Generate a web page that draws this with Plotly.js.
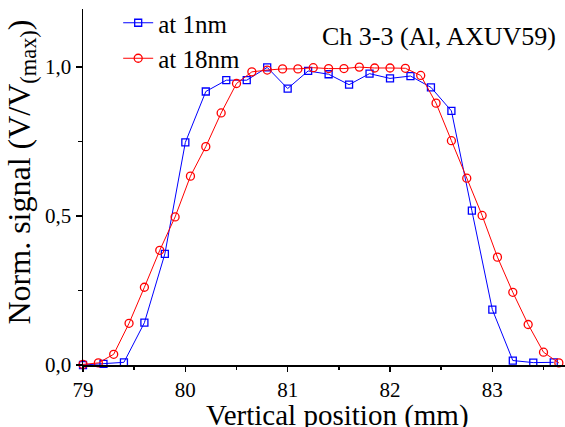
<!DOCTYPE html>
<html>
<head>
<meta charset="utf-8">
<script src="https://cdn.plot.ly/plotly-3.0.1.min.js"></script>
<style>html,body{margin:0;padding:0;background:#fff;}#chart{width:565px;height:427px;}</style>
</head>
<body>
<div id="chart"></div>
<script>
// Data
var x1nm = [79.0, 79.2, 79.4, 79.6, 79.8, 80.0, 80.2, 80.4, 80.6, 80.8, 81.0, 81.2, 81.4, 81.6, 81.8, 82.0, 82.2, 82.4, 82.6, 82.8, 83.0, 83.2, 83.4, 83.6];
var y1nm = [0.0, 0.004, 0.009, 0.142, 0.373, 0.747, 0.918, 0.956, 0.956, 0.999, 0.928, 0.987, 0.976, 0.941, 0.978, 0.962, 0.970, 0.932, 0.853, 0.518, 0.186, 0.015, 0.008, 0.009];
var x18nm = [79.0, 79.15, 79.3, 79.45, 79.6, 79.75, 79.9, 80.05, 80.2, 80.35, 80.5, 80.65, 80.8, 80.95, 81.1, 81.25, 81.4, 81.55, 81.7, 81.85, 82.0, 82.15, 82.3, 82.45, 82.6, 82.75, 82.9, 83.05, 83.2, 83.35, 83.5, 83.65];
var y18nm = [0.002, 0.007, 0.036, 0.140, 0.261, 0.385, 0.497, 0.634, 0.733, 0.846, 0.945, 0.984, 0.990, 0.994, 0.994, 0.998, 0.995, 0.995, 1.000, 0.997, 0.997, 0.996, 0.972, 0.879, 0.753, 0.627, 0.502, 0.362, 0.244, 0.136, 0.043, 0.007];
var seriesNames = ["at 1nm", "at 18nm"];
var xTitle = "Vertical position (mm)";
var yTitle = "Norm. signal (V/V<sub>(max)</sub>)";
var noteText = "Ch 3-3 (Al, AXUV59)";

var serif = "Liberation Serif";

var traces = [
  {
    x: x1nm, y: y1nm, name: seriesNames[0], type: "scatter", mode: "lines+markers",
    cliponaxis: false,
    line: {color: "#0000ff", width: 1},
    marker: {symbol: "square-open", size: 7, color: "#0000ff", line: {width: 1.3, color: "#0000ff"}}
  },
  {
    x: x18nm, y: y18nm, name: seriesNames[1], type: "scatter", mode: "lines+markers",
    cliponaxis: false,
    line: {color: "#ff0000", width: 1},
    marker: {symbol: "circle-open", size: 8, color: "#ff0000", line: {width: 1.3, color: "#ff0000"}}
  }
];

var xRange = [79, 83.71];
var yRange = [0, 1.195];

var layout = {
  width: 565, height: 427,
  margin: {l: 83, r: 0, t: 9, b: 62, pad: 0},
  paper_bgcolor: "#ffffff", plot_bgcolor: "#ffffff",
  separators: ",.",
  font: {family: serif, color: "#000000", size: 21},
  showlegend: true,
  legend: {
    x: 0.073, y: 1.026, xanchor: "left", yanchor: "top",
    bgcolor: "rgba(0,0,0,0)", borderwidth: 0,
    font: {family: serif, size: 25, color: "#000000"},
    tracegroupgap: 0
  },
  xaxis: {
    range: xRange, showgrid: false, zeroline: false,
    showline: true, linecolor: "#000000", linewidth: 1.5,
    ticks: "outside", ticklen: 5, tickwidth: 1.5, tickcolor: "#000000",
    tick0: 79, dtick: 1, tickformat: "d",
    minor: {ticks: "outside", dtick: 0.5, tick0: 79, ticklen: 3, tickwidth: 1.5, tickcolor: "#000000", showgrid: false},
    tickfont: {family: serif, size: 21, color: "#000000"}
  },
  yaxis: {
    range: yRange, showgrid: false, zeroline: false,
    showline: true, linecolor: "#000000", linewidth: 1.5,
    ticks: "outside", ticklen: 6, tickwidth: 1.5, tickcolor: "#000000",
    tick0: 0, dtick: 0.5, tickformat: ".1f",
    minor: {ticks: "outside", dtick: 0.25, tick0: 0, ticklen: 4, tickwidth: 1.5, tickcolor: "#000000", showgrid: false},
    tickfont: {family: serif, size: 21, color: "#000000"}
  },
  xaxis2: {
    range: xRange, overlaying: "x", side: "top", anchor: "y",
    showgrid: false, zeroline: false, showticklabels: false,
    showline: true, linecolor: "#000000", linewidth: 1.5,
    ticks: "inside", ticklen: 4, tickwidth: 1.5, tickcolor: "#000000",
    tick0: 79, dtick: 1,
    minor: {ticks: "inside", dtick: 0.5, tick0: 79, ticklen: 4, tickwidth: 1.5, tickcolor: "#000000", showgrid: false}
  },
  yaxis2: {
    range: yRange, overlaying: "y", side: "right", anchor: "x",
    showgrid: false, zeroline: false, showticklabels: false, showline: false,
    ticks: "inside", ticklen: 5, tickwidth: 1.5, tickcolor: "#000000",
    tick0: 0, dtick: 0.5,
    minor: {ticks: "inside", dtick: 0.25, tick0: 0, ticklen: 3, tickwidth: 1.5, tickcolor: "#000000", showgrid: false}
  },
  annotations: [
    {text: noteText, xref: "paper", yref: "paper", x: 0.7386, y: 0.924,
     xanchor: "center", yanchor: "middle", showarrow: false,
     font: {family: serif, size: 26, color: "#000000"}},
    {text: xTitle, xref: "paper", yref: "paper", x: 0.527, y: -0.142,
     xanchor: "center", yanchor: "middle", showarrow: false,
     font: {family: serif, size: 29, color: "#000000"}},
    {text: yTitle, xref: "paper", yref: "paper", x: -0.1286, y: 0.5407,
     xanchor: "center", yanchor: "middle", showarrow: false, textangle: -90,
     font: {family: serif, size: 32, color: "#000000"}}
  ]
};

Plotly.newPlot("chart", traces, layout, {staticPlot: true, displayModeBar: false});
</script>
</body>
</html>
